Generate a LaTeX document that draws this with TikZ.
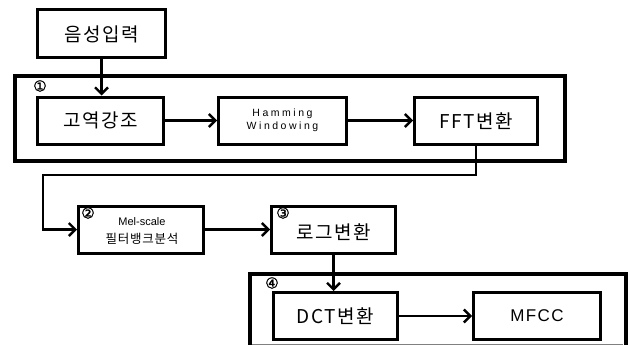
\documentclass[tikz,border=0pt]{standalone}
\usepackage{fontspec}
\setmainfont{Noto Sans CJK KR}
\newfontfamily\kor[LetterSpace=8]{Noto Sans CJK KR}
\newfontfamily\korb[LetterSpace=6]{Noto Sans CJK KR}
\newfontfamily\latinf{Liberation Sans}
\newfontfamily\hamf[LetterSpace=24]{Liberation Sans}
\newfontfamily\mfccf[LetterSpace=8]{Liberation Sans}
\newfontfamily\symf[FakeBold=1.5]{DejaVu Sans}
\usetikzlibrary{arrows.meta}
\begin{document}
\begin{tikzpicture}[x=1pt,y=-1pt,
  box/.style={draw,line width=3pt,minimum width=#1,minimum height=47pt,inner sep=0pt,align=center},
  box/.default=126pt,
  group/.style={draw,line width=4pt},
  conn/.style={line width=2.4pt,-{Straight Barb[length=6.5pt,width=13pt,line width=2.4pt]}},
  num/.style={inner sep=0pt,font=\symf\fontsize{15}{15}\selectfont},
  big/.style={font=\kor\fontsize{19}{19}\selectfont}
]
\useasboundingbox (0,0) rectangle (632,345);
\begin{scope}
\clip (0,0) rectangle (632,345);
% group frames
\draw[group] (15,76) rectangle (565,161);
\draw[group] (249.5,274) rectangle (626,347);
\draw[gray,line width=0.8pt] (252,344.2) -- (623,344.2);
\end{scope}
% nodes
\node[box=128pt,minimum height=48pt,big] (in) at (101.5,34) {음성입력};
\node[box=126pt,big] (pre) at (100.5,120.5) {고역강조};
\node[box=128pt,font=\hamf\fontsize{10.5}{14}\selectfont] (ham) at (282.5,120.5) {Hamming\\[-1pt]Windowing};
\node[box=123pt,big] (fft) at (476,121) {FFT변환};
\node[box=125pt] (mel) at (141,229.5) {};
\node[box=124pt] (log) at (333.5,229.5) {};
\node[box=124pt,big] (dct) at (335.5,316) {DCT변환};
\node[box=127pt,font=\mfccf\fontsize{17}{17}\selectfont] (mfcc) at (537,316) {MFCC};
% texts inside mel and log
\node[font=\latinf\fontsize{11}{11}\selectfont] (meltxt1) at (142,222) {Mel-scale};
\node[font=\korb\fontsize{12.5}{13}\selectfont] (meltxt2) at (142,239) {필터뱅크분석};
\node[big] (logtxt) at (334,232) {로그변환};
% circled numbers
\node[num] (n1) at (40,86) {①};
\node[num] (n2) at (88,213) {②};
\node[num] (n3) at (283,213) {③};
\node[num] (n4) at (272,283) {④};
% connectors
\coordinate (turn) at (43,175);
\draw[conn] (in.south) -- (in.south |- pre.north);
\draw[conn] (pre.east) -- (ham.west);
\draw[conn] (ham.east) -- (fft.west |- ham.east);
\draw[conn] (fft.south) |- (turn) |- (mel.west);
\draw[conn] (mel.east) -- (log.west);
\draw[conn] (log.south) -- (log.south |- dct.north);
\draw[conn] (dct.east) -- (mfcc.west);
\end{tikzpicture}
\end{document}
